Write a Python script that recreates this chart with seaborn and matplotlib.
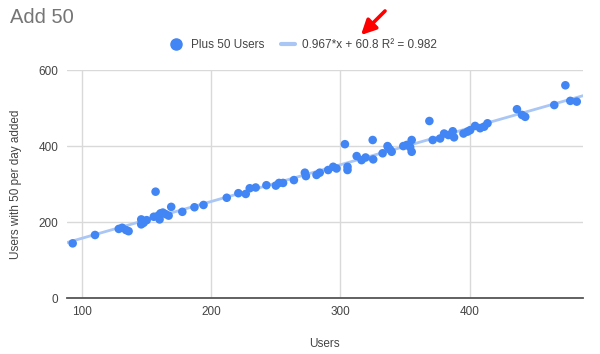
import numpy as np
import pandas as pd
import seaborn as sns
import matplotlib.pyplot as plt
from matplotlib.lines import Line2D

# values
users = [92.7, 110, 128.4, 131, 134, 136, 145.8, 145.8, 147.6, 150, 156.9, 155.5, 159, 160.7,
         162.5, 160, 164.6, 167, 169, 177.6, 187, 194, 212, 221, 226.7, 229.8, 234.4, 242.7,
         250, 252.5, 255.6, 264, 272.5, 273.3, 281.5, 284, 290.5, 294.4, 297, 303.5, 305.5,
         305.5, 312.6, 316.4, 319.5, 325.4, 325, 332.7, 336.5, 338.4, 339.7, 337, 348.7, 351.4,
         355.2, 355.2, 354, 368.9, 371.5, 377.2, 380.3, 383.6, 387, 388, 395.3, 398.4, 400.5,
         404.3, 408.2, 411.3, 413.9, 436.7, 440.6, 443.1, 465.6, 474.2, 478, 483]
plus50 = [144, 166, 182, 185, 179, 176, 207, 194, 198, 205, 280, 214, 217, 223,
          225, 207, 221, 217, 240, 227, 239, 245, 264, 276, 274, 289, 291, 297,
          296, 303, 303, 310.5, 330, 321, 324, 330, 337, 345.5, 341, 405, 345.5,
          337, 373.7, 363, 370, 365, 416, 381, 400, 391, 385, 396, 400, 403,
          416, 385, 397, 466, 416, 420, 433, 429, 439, 423, 433, 438, 442,
          453, 447, 451, 460, 497, 482, 477, 508, 560, 519, 517]

slope, intercept, r2 = 0.967, 60.8, 0.982
x_range = [88, 488]

df = pd.DataFrame({"Users": users, "Plus 50 Users": plus50})
trend = pd.DataFrame({"Users": x_range})
trend["fit"] = slope * trend["Users"] + intercept

sns.set_style("white")
plt.rcParams["font.family"] = ["Liberation Sans", "DejaVu Sans"]

fig = plt.figure(figsize=(6, 3.54), dpi=100)
ax = fig.add_axes([0.111, 0.158, 0.861, 0.644])

sns.lineplot(data=trend, x="Users", y="fit", ax=ax, color="#a9c6f5", lw=2, zorder=2)
sns.scatterplot(data=df, x="Users", y="Plus 50 Users", ax=ax, color="#4285f4",
                s=38, edgecolor="none", zorder=3)

ax.set_xlim(*x_range)
ax.set_ylim(0, 600)
ax.set_xticks([100, 200, 300, 400])
ax.set_yticks([0, 200, 400, 600])
ax.grid(True, color="#d9d9d9", lw=1)
ax.set_axisbelow(True)
for side in ["top", "right", "left"]:
    ax.spines[side].set_visible(False)
ax.spines["bottom"].set_color("#555555")
ax.spines["bottom"].set_linewidth(1.3)
ax.tick_params(axis="both", length=0, labelsize=8.5, colors="#444444", pad=6)
ax.set_xlabel("Users", fontsize=8.5, color="#444444", labelpad=14)
ax.set_ylabel("Users with 50 per day added", fontsize=8.5, color="#444444", labelpad=12)

fig.text(10 / 600, 1 - 23 / 354, "Add 50", fontsize=14.5, color="#757575")

handles = [
    Line2D([], [], marker="o", ls="none", color="#4285f4", markersize=8),
    Line2D([], [], color="#a9c6f5", lw=3),
]
labels = ["Plus 50 Users", f"{slope}*x + {intercept} R² = {r2}"]
fig.legend(handles, labels, loc="center", bbox_to_anchor=(0.505, 1 - 45 / 354), ncol=2,
           frameon=False, fontsize=8.5, handlelength=1.2, handletextpad=0.6,
           columnspacing=1.4, labelcolor="#444444")

ax.annotate("", xy=(359 / 600, 1 - 37 / 354), xycoords="figure fraction",
            xytext=(387 / 600, 1 - 9 / 354), textcoords="figure fraction",
            arrowprops=dict(arrowstyle="-|>", color="red", lw=2.6, mutation_scale=22))

plt.savefig("out.png", dpi=100)
